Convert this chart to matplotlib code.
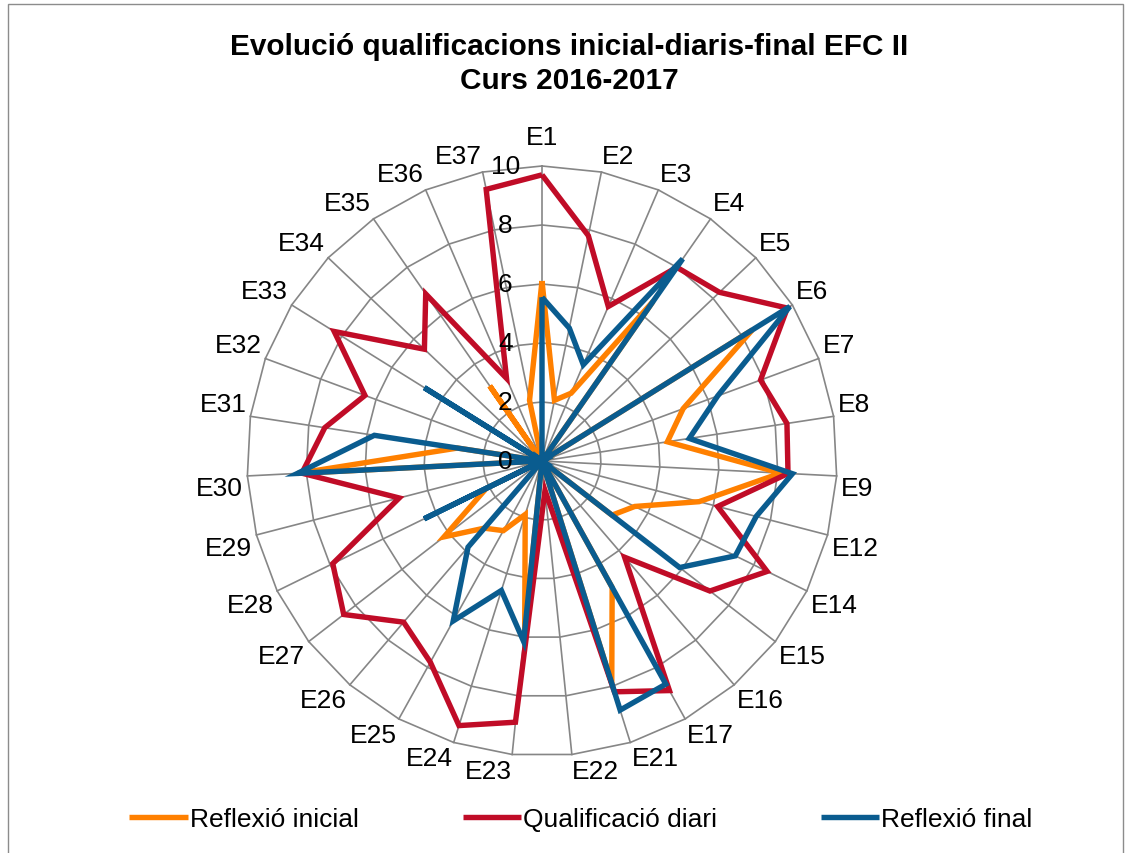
import numpy as np
import matplotlib
matplotlib.use("Agg")
import matplotlib.pyplot as plt
from matplotlib.patches import Rectangle

plt.rcParams['font.family'] = ['Liberation Sans', 'DejaVu Sans']

# alumnes (eixos del radar)
categories = ['E1', 'E2', 'E3', 'E4', 'E5', 'E6', 'E7', 'E8', 'E9', 'E12',
              'E14', 'E15', 'E16', 'E17', 'E21', 'E22', 'E23', 'E24', 'E25',
              'E26', 'E27', 'E28', 'E29', 'E30', 'E31', 'E32', 'E33', 'E34',
              'E35', 'E36', 'E37']

reflexio_inicial = [6.1, 2.1, 2.5, 6.6, 0, 8.4, 5.1, 4.3, 8.1, 5.5,
                    3.5, 3.0, 0, 4.9, 7.9, 0, 5.8, 1.9, 2.7,
                    3.0, 4.2, 2.1, 0, 8.3, 2.9, 0, 0, 0,
                    3.1, 0, 2.1]
qualificacio_diari = [9.7, 7.8, 5.7, 8.0, 8.3, 9.8, 7.9, 8.4, 8.35, 6.15,
                      8.5, 7.2, 4.3, 8.9, 8.2, 1.0, 8.9, 9.4, 7.8,
                      7.2, 8.5, 7.9, 5.0, 8.15, 7.45, 6.4, 8.3, 5.5,
                      6.9, 3.05, 9.4]
reflexio_final = [5.55, 4.6, 3.55, 8.35, 0, 9.9, 6.35, 5.05, 8.5, 7.5,
                  7.3, 5.9, 0, 8.65, 8.85, 0, 6.15, 4.6, 6.2,
                  3.85, 0, 4.45, 0, 8.3, 5.75, 0, 4.7, 0,
                  0, 0, 0]

series_names = ['Reflexió inicial', 'Qualificació diari', 'Reflexió final']
series_colors = ['#FF8000', '#C00C27', '#0A5C8F']
radial_ticks = [0, 2, 4, 6, 8, 10]

W, H = 1129, 854
fig = plt.figure(figsize=(W / 100, H / 100), dpi=100)

# marc del grafic
fig.patches.append(Rectangle((8 / W, -0.01), 1 - 14 / W, 1.01 - 5 / H,
                             transform=fig.transFigure, fill=False,
                             edgecolor='#8C8C8C', linewidth=1.0))

cx, cy, R = 542, H - 462, 295
ax = fig.add_axes([(cx - R) / W, (cy - R) / H, 2 * R / W, 2 * R / H],
                  projection='polar')
ax.set_theta_offset(np.pi / 2)
ax.set_theta_direction(-1)
ax.set_ylim(0, 10)
ax.set_xticks([])
ax.set_yticks([])
ax.grid(False)
ax.spines['polar'].set_visible(False)
ax.set_facecolor('none')

n = len(categories)
theta = np.arange(n) * 2 * np.pi / n
theta_closed = np.append(theta, theta[0])

grid_kw = dict(color='#868686', linewidth=1.2, clip_on=False, zorder=1)
for v in radial_ticks[1:]:
    ax.plot(theta_closed, [v] * (n + 1), **grid_kw)
for t in theta:
    ax.plot([t, t], [0, 10], **grid_kw)

handles = []
for vals, name, col in zip([reflexio_inicial, qualificacio_diari, reflexio_final],
                           series_names, series_colors):
    vals_closed = np.append(vals, vals[0])
    h, = ax.plot(theta_closed, vals_closed, color=col, linewidth=3.9,
                 solid_joinstyle='miter', solid_capstyle='butt',
                 clip_on=False, zorder=3, label=name)
    handles.append(h)

fs = 19

# etiquetes de valor al llarg de l'eix E1
for v in radial_ticks:
    ax.annotate(str(v), xy=(0, v), xytext=(-26.5, 0), textcoords='offset points',
                ha='center', va='center', fontsize=fs, zorder=4)

# etiquetes de categoria
for t, lab in zip(theta, categories):
    s, c = np.sin(t), np.cos(t)
    ha = 'left' if s > 0.05 else ('right' if s < -0.05 else 'center')
    va = 'bottom' if c > 0.05 else ('top' if c < -0.05 else 'center')
    gap = 12 if abs(s) < 0.05 and c > 0 else 3
    ax.annotate(lab, xy=(t, 10), xytext=(gap * s, gap * c),
                textcoords='offset points', ha=ha, va=va, fontsize=fs)

fig.text(569 / W, 1 - 64 / H,
         'Evolució qualificacions inicial-diaris-final EFC II\nCurs 2016-2017',
         ha='center', va='center', fontsize=21.4, fontweight='bold',
         linespacing=1.3)

fig.legend(handles=handles, loc='center', bbox_to_anchor=(581 / W, 1 - 820 / H),
           ncol=3, frameon=False, fontsize=fs, handlelength=2.2,
           handletextpad=0.08, columnspacing=3.95)

fig.savefig('out.png', dpi=100)
